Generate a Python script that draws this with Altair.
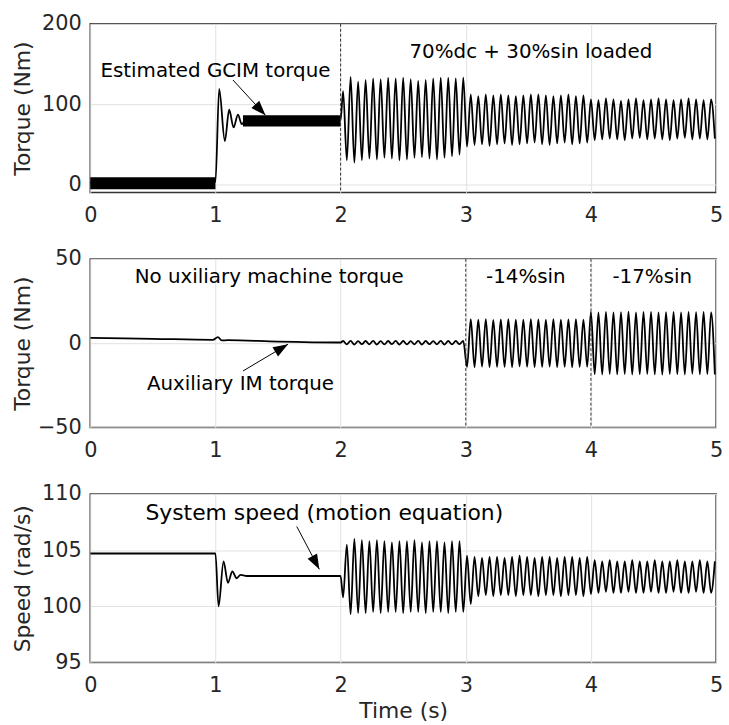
import altair as alt
import pandas as pd

FONT = "DejaVu Sans"
W, H = 631, 170
X_TICKS = [0, 1, 2, 3, 4, 5]

# timing of the oscillation extrema after t = 2 s (about 16.7 cycles per second)
PERIOD = 0.06
EXT_T0_A = 2.02   # first extremum
EXT_T0_B = 2.05   # second extremum

# ---------------- panel 1 : estimated GCIM torque (Nm) ----------------
tq_pre_t = [0.0, 1.0, 1.03, 1.075, 1.11, 1.145, 1.18, 1.21, 1.24, 1.6, 2.0]
tq_pre_v = [2, 3, 119, 54, 93, 71, 87, 75, 80, 80, 80]
tq_peaks = [116, 134, 128, 130, 132, 131, 133, 132, 133, 131, 129, 130, 132, 133, 133, 132, 133,
            112, 110, 112, 111, 112, 111, 110, 111, 112, 112, 111, 110, 111, 112, 110, 111,
            106, 105, 107, 106, 104, 106, 107, 105, 106, 107, 106, 105, 106, 107, 106, 105, 106]
tq_troughs = [30, 27, 30, 32, 31, 33, 32, 30, 31, 33, 34, 32, 31, 33, 35, 37,
              47, 49, 50, 48, 50, 51, 49, 50, 51, 52, 50, 49, 51, 52, 50, 51, 52,
              55, 56, 57, 56, 55, 57, 58, 56, 57, 56, 55, 57, 58, 56, 57, 56, 57]
tq_band_t0 = [0.0, 1.22]
tq_band_t1 = [1.0, 2.0]
tq_band_lo = [-6, 72]
tq_band_hi = [9, 86]

# ---------------- panel 2 : auxiliary IM torque (Nm) ----------------
aux_pre_t = [0.0, 0.5, 0.98, 1.02, 1.05, 1.1, 1.5, 2.0]
aux_pre_v = [3.2, 2.6, 2.0, 3.6, 1.6, 1.8, 0.9, 0.4]
aux_peaks = [1.3, 1.4, 1.2, 1.3, 1.4, 1.2, 1.3, 1.4, 1.3, 1.2, 1.4, 1.3, 1.2, 1.4, 1.3, 1.3, 1.4,
             14.2, 14.0, 14.3, 13.8, 14.1, 14.2, 13.9, 14.0, 14.3, 14.1, 13.9, 14.2, 14.0, 14.1, 14.3, 14.0,
             18.5, 18.2, 18.6, 18.3, 18.4, 18.7, 18.2, 18.5, 18.6, 18.3, 18.4, 18.6, 18.2, 18.5, 18.4, 18.6, 18.3]
aux_troughs = [-0.7, -0.8, -0.6, -0.7, -0.8, -0.7, -0.6, -0.8, -0.7, -0.7, -0.8, -0.6, -0.7, -0.8, -0.7, -0.6,
               -14.1, -14.3, -13.9, -14.2, -14.0, -14.1, -14.3, -13.8, -14.0, -14.2, -14.1, -13.9, -14.2, -14.0, -14.3, -14.1, -14.0,
               -18.4, -18.6, -18.2, -18.5, -18.3, -18.6, -18.4, -18.2, -18.5, -18.7, -18.3, -18.4, -18.6, -18.2, -18.5, -18.4, -18.6]

# ---------------- panel 3 : system speed (rad/s) ----------------
spd_pre_t = [0.0, 1.0, 1.025, 1.065, 1.1, 1.135, 1.17, 1.2, 1.25, 1.6, 2.0]
spd_pre_v = [104.7, 104.7, 100.0, 104.0, 102.1, 103.1, 102.5, 102.8, 102.7, 102.7, 102.7]
spd_troughs = [100.8,
               99.3, 99.4, 99.4, 99.5, 99.4, 99.5, 99.5, 99.4, 99.5, 99.5, 99.4, 99.5, 99.5, 99.4, 99.5, 99.5,
               100.2, 100.9, 101.0, 100.9, 101.0, 101.0, 100.9, 101.0, 101.0, 100.9, 101.0, 101.0, 100.9, 101.0, 101.0, 100.9,
               101.1, 101.2, 101.3, 101.2, 101.2, 101.3, 101.2, 101.2, 101.3, 101.2, 101.2, 101.3, 101.2, 101.2, 101.3, 101.2, 101.2]
spd_peaks = [105.5, 106.0, 105.9, 105.8, 105.9, 105.8, 105.7, 105.8, 105.8, 105.9, 105.7, 105.8, 105.8, 105.7, 105.8, 105.8,
             104.5, 104.4, 104.3, 104.4, 104.4, 104.3, 104.4, 104.5, 104.4, 104.3, 104.4, 104.4, 104.3, 104.4, 104.4, 104.3, 104.4,
             104.1, 104.0, 104.1, 104.0, 104.0, 104.1, 104.0, 104.0, 104.1, 104.0, 104.0, 104.1, 104.0, 104.0, 104.1, 104.0, 104.0]

# ---------------- annotations ----------------
tq_text = ["Estimated GCIM torque", "70%dc + 30%sin loaded"]
tq_text_t = [1.0, 3.52]
tq_text_v = [141, 165]
tq_text_size = [20, 20]
tq_arrow = {"t": [1.14], "v": [130], "t2": [1.40], "v2": [86]}
tq_arrow_angle = 137

aux_text = ["No uxiliary machine torque", "-14%sin", "-17%sin", "Auxiliary IM torque"]
aux_text_t = [1.43, 3.48, 4.49, 1.20]
aux_text_v = [39.5, 39.5, 39.5, -24]
aux_text_size = [20, 20, 20, 20]
aux_arrow = {"t": [1.22], "v": [-16.5], "t2": [1.58], "v2": [-0.6]}
aux_arrow_angle = 59

spd_text = ["System speed (motion equation)"]
spd_text_t = [1.87]
spd_text_v = [108.3]
spd_text_size = [22]
spd_arrow = {"t": [1.65], "v": [107.1], "t2": [1.83], "v2": [103.3]}
spd_arrow_angle = 152

tq_dashed = [2]
aux_dashed = [3, 4]


def series(pre_t, pre_v, first, second):
    """first extremum list starts at EXT_T0_A, second at EXT_T0_B."""
    ts = list(pre_t)
    vs = list(pre_v)
    for j, v in enumerate(first):
        ts.append(round(EXT_T0_A + PERIOD * j, 4))
        vs.append(v)
    for j, v in enumerate(second):
        ts.append(round(EXT_T0_B + PERIOD * j, 4))
        vs.append(v)
    return pd.DataFrame({"t": ts, "v": vs}).sort_values("t")


ARROW_PATH = "M0,0L-0.36,1L0.36,1Z"


def panel(df, domain, yticks, ytitle, xtitle, texts, arrow, arrow_angle, dashed, bands=None):
    xs = alt.Scale(domain=[0, 5], nice=False, zero=False)
    ys = alt.Scale(domain=domain, nice=False, zero=False)
    xa = alt.Axis(values=X_TICKS, format="d", title=xtitle)
    ya = alt.Axis(values=yticks, format="d", title=ytitle)
    X = alt.X("t:Q", scale=xs, axis=xa)
    Y = alt.Y("v:Q", scale=ys, axis=ya)

    layers = []
    if bands is not None:
        layers.append(
            alt.Chart(pd.DataFrame(bands)).mark_rect(color="black")
            .encode(x=X, x2="t2:Q", y=Y, y2="v2:Q")
        )
    layers.append(
        alt.Chart(df).mark_line(color="black", strokeWidth=1.8, interpolate="monotone", clip=True)
        .encode(x=X, y=Y)
    )
    layers.append(
        alt.Chart(pd.DataFrame({"t": dashed})).mark_rule(color="#333333", strokeWidth=1, strokeDash=[3, 2])
        .encode(x=X)
    )
    tdf = pd.DataFrame({"t": texts[1], "v": texts[2], "label": texts[0], "fs": texts[3]})
    layers.append(
        alt.Chart(tdf).mark_text(font=FONT, color="black", align="center", baseline="middle")
        .encode(x=X, y=Y, text="label:N", size=alt.Size("fs:Q", scale=None, legend=None))
    )
    adf = pd.DataFrame(arrow)
    layers.append(
        alt.Chart(adf).mark_rule(color="black", strokeWidth=1)
        .encode(x=X, y=Y, x2="t2:Q", y2="v2:Q")
    )
    hdf = pd.DataFrame({"t": arrow["t2"], "v": arrow["v2"]})
    layers.append(
        alt.Chart(hdf).mark_point(shape=ARROW_PATH, filled=True, size=900, color="black",
                                  opacity=1, angle=arrow_angle)
        .encode(x=X, y=Y)
    )
    return alt.layer(*layers).properties(width=W, height=H)


tq_df = series(tq_pre_t, tq_pre_v, tq_peaks, tq_troughs)
aux_df = series(aux_pre_t, aux_pre_v, aux_peaks, aux_troughs)
spd_df = series(spd_pre_t, spd_pre_v, spd_troughs, spd_peaks)

top = panel(tq_df, [-10, 200], [0, 100, 200], "Torque (Nm)", None,
            (tq_text, tq_text_t, tq_text_v, tq_text_size), tq_arrow, tq_arrow_angle, tq_dashed,
            bands={"t": tq_band_t0, "t2": tq_band_t1, "v": tq_band_lo, "v2": tq_band_hi})
mid = panel(aux_df, [-50, 50], [-50, 0, 50], "Torque (Nm)", None,
            (aux_text, aux_text_t, aux_text_v, aux_text_size), aux_arrow, aux_arrow_angle, aux_dashed)
bot = panel(spd_df, [95, 110], [95, 100, 105, 110], "Speed (rad/s)", "Time (s)",
            (spd_text, spd_text_t, spd_text_v, spd_text_size), spd_arrow, spd_arrow_angle, [])

chart = (
    alt.vconcat(top, mid, bot, spacing=21)
    .properties(padding={"left": 11, "top": 9, "right": 5, "bottom": 5})
    .configure_view(stroke="#333333", strokeWidth=1.5)
    .configure_axis(
        labelFont=FONT, labelFontSize=21, labelColor="#262626",
        titleFont=FONT, titleFontSize=22, titleFontWeight="normal", titleColor="#262626",
        grid=True, gridColor="#e2e2e2", gridWidth=1, ticks=False, domain=False, labelFlush=False,
    )
    .configure_axisY(labelPadding=9, titlePadding=8, minExtent=48, maxExtent=48)
    .configure_axisX(labelPadding=12, titlePadding=5)
)

chart.save("out.html", embed_options={"renderer": "svg", "actions": False})
